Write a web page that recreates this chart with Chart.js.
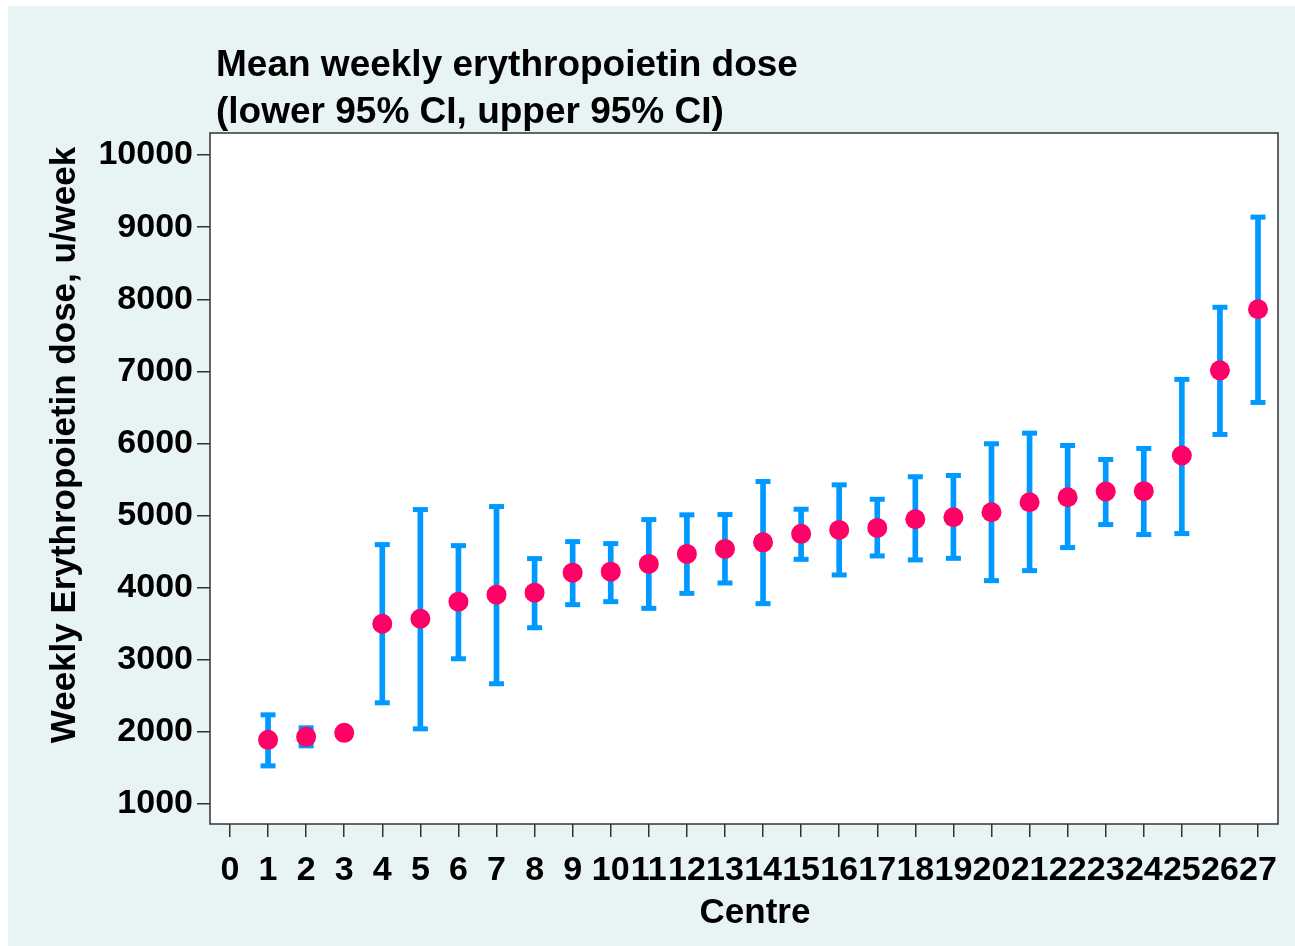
<!DOCTYPE html>
<html>
<head>
<meta charset="utf-8">
<script src="https://cdn.jsdelivr.net/npm/chart.js@4.4.1/dist/chart.umd.min.js"></script>
<style>
  html, body { margin: 0; padding: 0; background: #ffffff; }
  #wrap { width: 1295px; height: 946px; }
</style>
</head>
<body>
<div id="wrap"><canvas id="c" width="1295" height="946"></canvas></div>
<script>
// ---- Data ----
const centres = [1, 2, 3, 4, 5, 6, 7, 8, 9, 10, 11, 12, 13, 14, 15, 16, 17, 18, 19, 20, 21, 22, 23, 24, 25, 26, 27];
const meanDose = [1889, 1931, 1986, 3500, 3569, 3806, 3903, 3931, 4208, 4222, 4329, 4468, 4537, 4629, 4746, 4801, 4829, 4949, 4976, 5046, 5185, 5254, 5333, 5338, 5833, 7014, 7861];
const lowerCI = [1528, 1806, 1960, 2403, 2042, 3014, 2667, 3444, 3764, 3806, 3713, 3921, 4065, 3778, 4393, 4176, 4440, 4385, 4407, 4097, 4236, 4556, 4875, 4736, 4750, 6125, 6569];
const upperCI = [2236, 2056, 2020, 4597, 5083, 4583, 5125, 4403, 4639, 4611, 4944, 5010, 5014, 5472, 5088, 5426, 5226, 5538, 5556, 5996, 6143, 5972, 5778, 5931, 6889, 7889, 9139];
const xTicks = [0, 1, 2, 3, 4, 5, 6, 7, 8, 9, 10, 11, 12, 13, 14, 15, 16, 17, 18, 19, 20, 21, 22, 23, 24, 25, 26, 27];
const yTicks = [1000, 2000, 3000, 4000, 5000, 6000, 7000, 8000, 9000, 10000];
const titleLines = ['Mean weekly erythropoietin dose', '(lower 95% CI, upper 95% CI)'];
const yTitle = 'Weekly Erythropoietin dose, u/week';
const xTitle = 'Centre';

const BLUE = '#0099ff';
const PINK = '#ff0066';
const PANEL = '#e8f4f4';
const FONT = '"Liberation Sans", Arial, Helvetica, sans-serif';

const backgroundPlugin = {
  id: 'bgPanel',
  beforeDraw(chart) {
    const ctx = chart.ctx, a = chart.chartArea;
    ctx.save();
    ctx.fillStyle = '#ffffff';
    ctx.fillRect(0, 0, chart.width, chart.height);
    ctx.fillStyle = PANEL;
    ctx.fillRect(8, 6, chart.width - 8, chart.height - 6);
    ctx.fillStyle = '#ffffff';
    ctx.fillRect(a.left, a.top, a.right - a.left, a.bottom - a.top);
    ctx.restore();
  },
  afterDraw(chart) {
    const ctx = chart.ctx, a = chart.chartArea;
    ctx.save();
    ctx.strokeStyle = '#333333';
    ctx.lineWidth = 1.5;
    ctx.strokeRect(a.left, a.top, a.right - a.left, a.bottom - a.top);
    // titles
    ctx.fillStyle = '#000000';
    ctx.font = 'bold 37px ' + FONT;
    ctx.textAlign = 'left';
    ctx.textBaseline = 'alphabetic';
    ctx.fillText(titleLines[0], a.left + 6, 76);
    ctx.fillText(titleLines[1], a.left + 6, 123);
    ctx.font = 'bold 35px ' + FONT;
    ctx.textAlign = 'center';
    ctx.textBaseline = 'middle';
    ctx.fillText(xTitle, (a.left + a.right) / 2 + 11, 913);
    ctx.translate(65, 445);
    ctx.rotate(-Math.PI / 2);
    ctx.fillText(yTitle, 0, 0);
    ctx.restore();
  }
};

const barData = centres.map((c, i) => ({ x: c, y: [lowerCI[i], upperCI[i]] }));
const capData = centres.flatMap((c, i) => [{ x: c, y: lowerCI[i] }, { x: c, y: upperCI[i] }]);
const meanData = centres.map((c, i) => ({ x: c, y: meanDose[i] }));

new Chart(document.getElementById('c'), {
  type: 'bar',
  data: {
    datasets: [
      {
        type: 'scatter', label: 'Mean', data: meanData, order: 0,
        pointRadius: 10, pointHoverRadius: 10, pointBackgroundColor: PINK, pointBorderWidth: 0, borderWidth: 0
      },
      {
        type: 'scatter', label: 'CI caps', data: capData, order: 1,
        pointStyle: 'line', pointRadius: 7.5, pointHoverRadius: 7.5, borderColor: BLUE, pointBorderColor: BLUE, pointBorderWidth: 5, borderWidth: 5
      },
      {
        type: 'bar', label: 'CI', data: barData, order: 2,
        backgroundColor: BLUE, borderWidth: 0, barThickness: 5, grouped: false
      }
    ]
  },
  options: {
    responsive: false,
    animation: false,
    devicePixelRatio: 1,
    layout: { padding: { top: 133, right: 17, bottom: 0, left: 0 } },
    plugins: { legend: { display: false }, title: { display: false }, tooltip: { enabled: false } },
    scales: {
      x: {
        type: 'linear', min: -0.525, max: 27.525, offset: false,
        afterFit(scale) { scale.height = 122; },
        afterBuildTicks(scale) { scale.ticks = xTicks.map(v => ({ value: v })); },
        grid: { display: true, drawOnChartArea: false, offset: false, tickLength: 13, color: '#333333', lineWidth: 1.5 },
        border: { display: false },
        ticks: { autoSkip: false, maxRotation: 0, minRotation: 0, padding: 13, color: '#000000',
                 callback: (v) => String(v),
                 font: { family: FONT, weight: 'bold', size: 34 } }
      },
      y: {
        type: 'linear', min: 722, max: 10306,
        afterFit(scale) { scale.width = 210; },
        afterBuildTicks(scale) { scale.ticks = yTicks.map(v => ({ value: v })); },
        grid: { display: true, drawOnChartArea: false, tickLength: 13, color: '#333333', lineWidth: 1.5 },
        border: { display: false },
        ticks: { padding: 4, color: '#000000', callback: (v) => String(v),
                 font: { family: FONT, weight: 'bold', size: 34 } }
      }
    }
  },
  plugins: [backgroundPlugin]
});
</script>
</body>
</html>
